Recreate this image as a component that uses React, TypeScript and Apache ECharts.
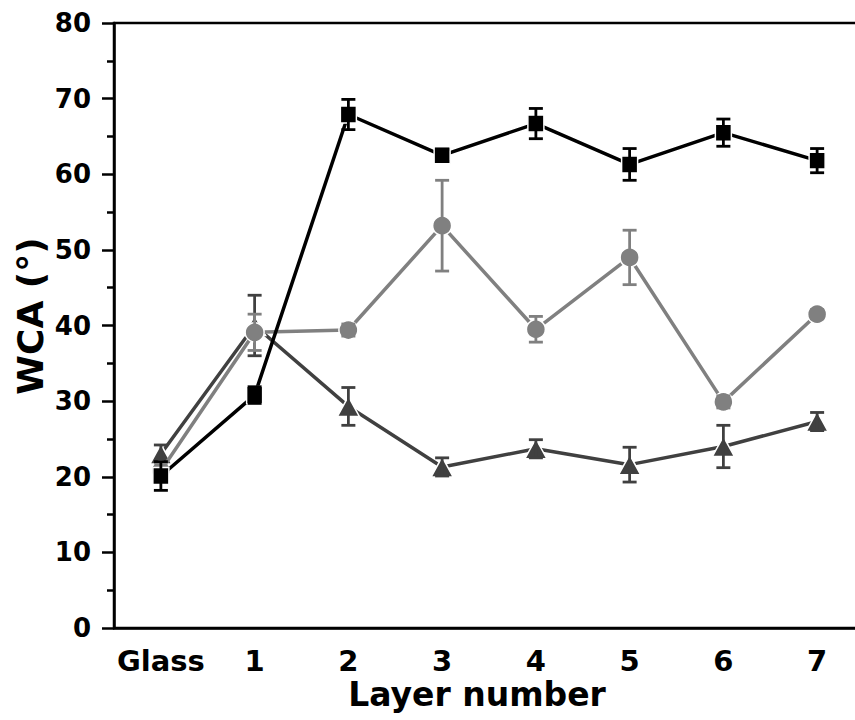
import React, { useEffect, useRef } from "react";
import * as echarts from "echarts";

const categories = ["Glass", "1", "2", "3", "4", "5", "6", "7"];
const squareMean = [20.1, 30.8, 67.9, 62.5, 66.7, 61.3, 65.5, 61.8];
const squareErr = [1.9, 1.1, 2.0, 0.8, 2.0, 2.1, 1.8, 1.6];
const circleMean = [20.8, 39.1, 39.4, 53.2, 39.5, 49.0, 29.9, 41.5];
const circleErr = [1.0, 2.4, 0.8, 6.0, 1.7, 3.6, 0.8, 0.6];
const triMean = [23.0, 40.0, 29.3, 21.3, 23.7, 21.6, 24.0, 27.3];
const triErr = [1.2, 4.0, 2.5, 1.2, 1.2, 2.3, 2.8, 1.2];
const yTicks = { min: 0, max: 80, interval: 10 };
const xTitle = "Layer number";
const yTitle = "WCA (°)";

const FONT = "'DejaVu Sans', sans-serif";

function errorSeries(mean: number[], err: number[], color: string, z: number) {
  return {
    type: "custom",
    z,
    silent: true,
    data: mean.map((m, i) => [i, m - err[i], m + err[i]]),
    renderItem: (params: any, api: any) => {
      const x = api.value(0);
      const lo = api.coord([x, api.value(1)]);
      const hi = api.coord([x, api.value(2)]);
      const w = 7;
      const style = { stroke: color, lineWidth: 2.8 };
      return {
        type: "group",
        children: [
          { type: "line", shape: { x1: lo[0], y1: lo[1], x2: hi[0], y2: hi[1] }, style },
          { type: "line", shape: { x1: hi[0] - w, y1: hi[1], x2: hi[0] + w, y2: hi[1] }, style },
          { type: "line", shape: { x1: lo[0] - w, y1: lo[1], x2: lo[0] + w, y2: lo[1] }, style },
        ],
      };
    },
  };
}

function lineSeries(mean: number[], color: string, symbol: string, size: any, z: number) {
  return {
    type: "line",
    z,
    data: mean,
    symbol,
    symbolSize: size,
    showAllSymbol: true,
    lineStyle: { color, width: 3.5 },
    itemStyle: { color, borderColor: "#fff", borderWidth: 1.5 },
  };
}

export default function App() {
  const ref = useRef<HTMLDivElement>(null);
  useEffect(() => {
    if (!ref.current) return;
    const chart = echarts.init(ref.current, null, { renderer: "svg" });
    chart.setOption({
      animation: false,
      backgroundColor: "#fff",
      grid: {
        left: 114,
        top: 23,
        right: 0,
        bottom: 92,
        show: true,
        borderColor: "#000",
        borderWidth: 2.5,
      },
      xAxis: {
        type: "category",
        data: categories,
        boundaryGap: true,
        axisLine: { lineStyle: { color: "#000", width: 2.5 } },
        axisTick: { alignWithLabel: true, interval: 0, length: 11, lineStyle: { color: "#000", width: 2.5 } },
        axisLabel: { interval: 0, color: "#000", fontSize: 29, fontWeight: "bold", fontFamily: FONT, margin: 18 },
        splitLine: { show: false },
      },
      yAxis: {
        type: "value",
        min: yTicks.min,
        max: yTicks.max,
        interval: yTicks.interval,
        axisLine: { show: true, lineStyle: { color: "#000", width: 2.5 } },
        axisTick: { show: true, length: 12, lineStyle: { color: "#000", width: 2.5 } },
        minorTick: { show: true, splitNumber: 2, length: 7, lineStyle: { color: "#000", width: 2.5 } },
        axisLabel: { color: "#000", fontSize: 26, fontWeight: "bold", fontFamily: FONT, margin: 23 },
        splitLine: { show: false },
      },
      graphic: [
        {
          type: "text",
          x: 477,
          y: 694,
          style: {
            text: xTitle,
            font: `bold 33px ${FONT}`,
            fill: "#000",
            textAlign: "center",
            textVerticalAlign: "middle",
          },
        },
        {
          type: "text",
          x: 30,
          y: 316,
          rotation: Math.PI / 2,
          style: {
            text: yTitle,
            font: `bold 36px ${FONT}`,
            fill: "#000",
            textAlign: "center",
            textVerticalAlign: "middle",
          },
        },
      ],
      series: [
        lineSeries(triMean, "#404040", "triangle", [22, 20], 2),
        errorSeries(triMean, triErr, "#404040", 3),
        lineSeries(circleMean, "#808080", "circle", 19, 4),
        errorSeries(circleMean, circleErr, "#808080", 5),
        lineSeries(squareMean, "#000000", "rect", [16, 17], 6),
        errorSeries(squareMean, squareErr, "#000000", 7),
      ],
    });
    return () => chart.dispose();
  }, []);
  return (
    <div
      ref={ref}
      style={{ position: "fixed", left: 0, top: 0, width: 864, height: 720, background: "#fff" }}
    />
  );
}
